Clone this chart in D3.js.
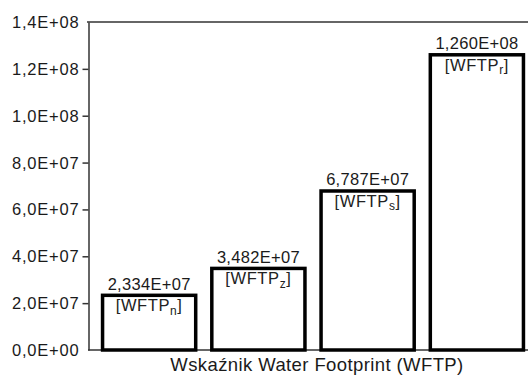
<!DOCTYPE html>
<html><head><meta charset="utf-8">
<script src="https://cdn.jsdelivr.net/npm/d3@7"></script>
<style>html,body{margin:0;padding:0;background:#fff;} svg{display:block;} svg text{font-family:'Liberation Sans', Arial, sans-serif;}</style>
</head><body>
<script>
const categories = ["n", "z", "s", "r"];
const values = [2.334e7, 3.482e7, 6.787e7, 1.260e8];
const yTicks = [0, 2e7, 4e7, 6e7, 8e7, 1e8, 1.2e8, 1.4e8];
const xTitle = "Wskaźnik Water Footprint (WFTP)";

const W = 528, H = 381;
const svg = d3.select("body").append("svg").attr("width", W).attr("height", H);

function fmt(v, d) {
  const s = v.toExponential(d);
  const [m, e] = s.split("e");
  const sign = e[0] === "-" ? "-" : "+";
  const ex = Math.abs(+e).toString().padStart(2, "0");
  return m.replace(".", ",") + "E" + sign + ex;
}

const x = d3.scaleBand().domain(categories).range([89, 526])
  .paddingInner(0.12).paddingOuter(0.06).align(0.92);
const y = d3.scaleLinear().domain([0, 1.4e8]).range([350, 22]);

const col = "#1a1a1a";

// top line
svg.append("line").attr("x1", 87).attr("x2", W).attr("y1", y(1.4e8)).attr("y2", y(1.4e8))
  .attr("stroke", "#333").attr("stroke-width", 1.5);

// y axis line + ticks
const yAxis = d3.axisLeft(y).tickValues(yTicks).tickSize(6).tickFormat("").tickSizeOuter(0);
const ga = svg.append("g").attr("transform", "translate(88.5,0)").call(yAxis);
ga.select(".domain").attr("stroke", "#333").attr("stroke-width", 1.5);
ga.selectAll(".tick line").attr("stroke", "#333").attr("stroke-width", 1.5);
ga.selectAll(".tick").filter(d => d === 0 || d === 1.4e8).select("line").remove();

// y tick labels
svg.selectAll("text.ytick").data(yTicks).enter().append("text").attr("class", "ytick")
  .attr("x", 79.5).attr("y", d => y(d)).attr("dy", "0.36em")
  .attr("text-anchor", "end").attr("fill", col)
  .style("font-size", "16.5px").style("letter-spacing", "0.8px")
  .text(d => fmt(d, 1));

// baseline
svg.append("line").attr("x1", 88).attr("x2", W).attr("y1", y(0)).attr("y2", y(0))
  .attr("stroke", "#333").attr("stroke-width", 1.5);

// bars
svg.selectAll("rect.bar").data(values).enter().append("rect").attr("class", "bar")
  .attr("x", (d, i) => x(categories[i]) + 1.5)
  .attr("width", x.bandwidth() - 3)
  .attr("y", d => y(d))
  .attr("height", d => y(0) - y(d))
  .attr("fill", "#fff").attr("stroke", "#000").attr("stroke-width", 3.5);

// value labels
svg.selectAll("text.val").data(values).enter().append("text").attr("class", "val")
  .attr("x", (d, i) => x(categories[i]) + x.bandwidth() / 2)
  .attr("y", d => y(d) - 5.5)
  .attr("text-anchor", "middle").attr("fill", col).style("font-size", "16.5px")
  .style("letter-spacing", "0.3px")
  .text(d => fmt(d, 3));

// category labels
const cl = svg.selectAll("text.cat").data(values).enter().append("text").attr("class", "cat")
  .attr("x", (d, i) => x(categories[i]) + x.bandwidth() / 2)
  .attr("y", d => y(d) + 16)
  .attr("text-anchor", "middle").attr("fill", "#222").style("font-size", "16.5px")
  .style("letter-spacing", "0.6px");
cl.append("tspan").text("[WFTP");
cl.append("tspan").attr("dy", 3.5).style("font-size", "12px").text((d, i) => categories[i]);
cl.append("tspan").attr("dy", -3.5).text("]");

// x title
svg.append("text").attr("x", 317).attr("y", 371).attr("text-anchor", "middle")
  .attr("fill", col).style("font-size", "18.5px").style("letter-spacing", "0.4px").text(xTitle);
</script>
</body></html>
